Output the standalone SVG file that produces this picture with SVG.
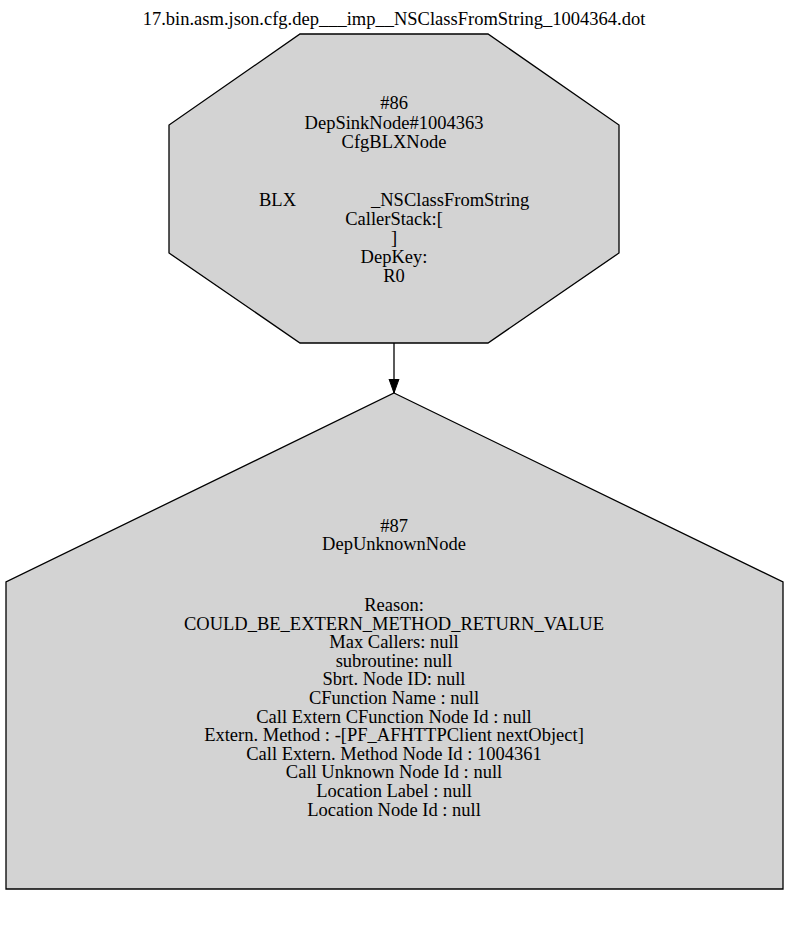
<svg xmlns="http://www.w3.org/2000/svg" width="789" height="948" viewBox="0 0 789 948">
<style>
text{font-family:"Liberation Serif","Times New Roman",serif;font-size:18.5px;fill:#000;text-anchor:middle}
.shape{fill:#d3d3d3;stroke:#000;stroke-width:1.3}
.edge{stroke:#000;stroke-width:1.3;fill:none}
</style>
<defs>
<marker id="arrow" markerWidth="14" markerHeight="12" refX="14" refY="5.5" orient="auto" markerUnits="userSpaceOnUse">
<path d="M0,0.5 L14,5.5 L0,10.5 Z" fill="#000" stroke="#000" stroke-width="1"/>
</marker>
</defs>
<rect width="789" height="948" fill="#fff"/>
<text x="394" y="25">17.bin.asm.json.cfg.dep___imp__NSClassFromString_1004364.dot</text>
<g id="connectors">
<path class="edge" d="M394,343 L394,393" marker-end="url(#arrow)"/>
</g>
<g id="node86">
<polygon class="shape" points="300,34 488,34 619,125 619,253 488,343 300,343 169,253 169,125"/>
<text x="394" y="109.3">#86</text>
<text x="394" y="128.5">DepSinkNode#1004363</text>
<text x="394" y="147.6">CfgBLXNode</text>
<text x="259" y="206" style="text-anchor:start">BLX</text>
<text x="371" y="206" style="text-anchor:start">_NSClassFromString</text>
<text x="394" y="225">CallerStack:[</text>
<text x="394" y="244.2">]</text>
<text x="394" y="263">DepKey:</text>
<text x="394" y="281.7">R0</text>
</g>
<g id="node87">
<polygon class="shape" points="394,393 783,582 783,889 6,889 6,582"/>
<text x="394" y="531.7">#87</text>
<text x="394" y="550">DepUnknownNode</text>
<text x="394" y="611">Reason:</text>
<text x="394" y="629.6">COULD_BE_EXTERN_METHOD_RETURN_VALUE</text>
<text x="394" y="648.2">Max Callers: null</text>
<text x="394" y="666.8">subroutine: null</text>
<text x="394" y="685.4">Sbrt. Node ID: null</text>
<text x="394" y="704">CFunction Name : null</text>
<text x="394" y="722.6">Call Extern CFunction Node Id : null</text>
<text x="394" y="741.2">Extern. Method : -[PF_AFHTTPClient nextObject]</text>
<text x="394" y="759.8">Call Extern. Method Node Id : 1004361</text>
<text x="394" y="778.4">Call Unknown Node Id : null</text>
<text x="394" y="797">Location Label : null</text>
<text x="394" y="815.6">Location Node Id : null</text>
</g>
</svg>
